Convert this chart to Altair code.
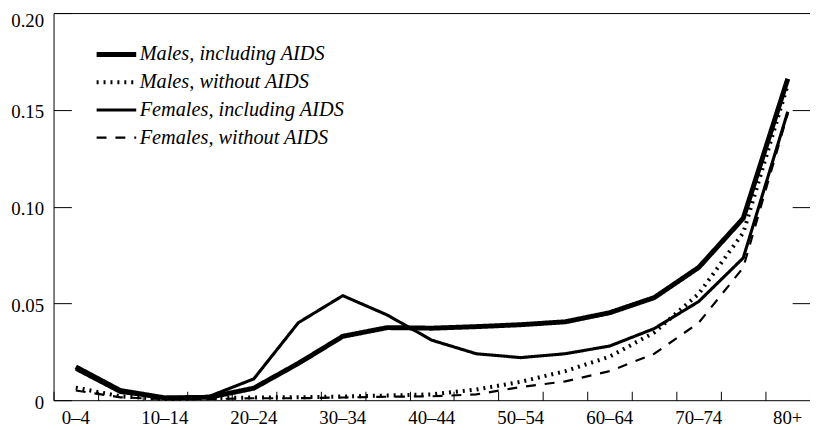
import json
import altair as alt
import pandas as pd

ages = ["0–4", "5–9", "10–14", "15–19", "20–24", "25–29", "30–34", "35–39",
        "40–44", "45–49", "50–54", "55–59", "60–64", "65–69", "70–74", "75–79", "80+"]
shown_labels = ["0–4", "10–14", "20–24", "30–34", "40–44", "50–54", "60–64", "70–74", "80+"]

series_names = ["Males, including AIDS", "Males, without AIDS",
                "Females, including AIDS", "Females, without AIDS"]

males_incl = [0.0172, 0.005, 0.0012, 0.0015, 0.0062, 0.019, 0.033, 0.0375,
              0.0372, 0.038, 0.039, 0.0405, 0.0452, 0.053, 0.0686, 0.094, 0.166]
males_wo = [0.0065, 0.002, 0.0006, 0.001, 0.0014, 0.0015, 0.0019, 0.0024,
            0.003, 0.0055, 0.0095, 0.015, 0.0225, 0.035, 0.055, 0.0865, 0.163]
females_incl = [0.016, 0.004, 0.0012, 0.002, 0.011, 0.040, 0.054, 0.044,
                0.031, 0.024, 0.022, 0.024, 0.028, 0.037, 0.051, 0.0735, 0.149]
females_wo = [0.005, 0.0015, 0.0005, 0.0006, 0.001, 0.001, 0.0014, 0.0018,
              0.002, 0.003, 0.0068, 0.0097, 0.015, 0.024, 0.040, 0.0685, 0.148]

values = [males_incl, males_wo, females_incl, females_wo]
rows = []
for name, vals in zip(series_names, values):
    for a, v in zip(ages, vals):
        rows.append({"age": a, "rate": v, "series": name})
df = pd.DataFrame(rows)

FONT = "Liberation Serif"
label_expr = "indexof(" + json.dumps(shown_labels) + ", datum.value) >= 0 ? datum.label : ''"

x_scale = alt.Scale(domain=ages, paddingInner=0, paddingOuter=0)
y_scale = alt.Scale(domain=[0, 0.2], nice=False, zero=True)

legend_opts = dict(title=None, orient="none", legendX=41, legendY=28,
                   symbolType="stroke", symbolSize=1600, symbolStrokeColor="black",
                   labelFont=FONT, labelFontSize=20.5, labelFontStyle="italic",
                   labelColor="black", labelOffset=1, rowPadding=0, padding=0,
                   clipHeight=27.8, labelLimit=400)

lines = alt.Chart(df).mark_line(color="black").encode(
    x=alt.X("age:N", sort=ages, scale=x_scale, title=None,
            axis=alt.Axis(labelExpr=label_expr, labelAngle=0, ticks=False, tickSize=0,
                          labelPadding=9, domain=True, domainColor="black",
                          domainWidth=1, grid=False, labelFont=FONT, labelFontSize=19,
                          labelColor="black")),
    y=alt.Y("rate:Q", scale=y_scale, title=None,
            axis=alt.Axis(values=[0, 0.05, 0.1, 0.15, 0.2],
                          labelExpr="datum.value == 0 ? '0' : format(datum.value, '.2f')",
                          ticks=False, tickSize=0, labelPadding=10,
                          labelOffset=alt.ConditionalAxisNumber(
                              condition={"test": "datum.value >= 0.2", "value": 8},
                              value=2),
                          domain=True, domainColor="black", grid=False, labelFont=FONT,
                          labelFontSize=19, labelColor="black")),
    strokeDash=alt.StrokeDash("series:N", sort=series_names,
                              scale=alt.Scale(domain=series_names,
                                              range=[[1, 0], [2, 5], [1, 0], [10, 9]]),
                              legend=alt.Legend(**legend_opts)),
    strokeWidth=alt.StrokeWidth("series:N", sort=series_names,
                                scale=alt.Scale(domain=series_names, range=[5, 2.2, 1.0, 2.8]),
                                legend=alt.Legend(**legend_opts)),
    order=alt.Order("age_idx:Q"),
).transform_calculate(
    age_idx="indexof(" + json.dumps(ages) + ", datum.age)"
)

ticks_layer = alt.Chart(df).mark_point(opacity=0).encode(
    x=alt.X("age:N", sort=ages, scale=x_scale, title=None,
            axis=alt.Axis(orient="bottom", offset=-9, tickSize=9, tickBand="extent",
                          tickColor="black", tickWidth=1, labels=False, domain=False,
                          grid=False)),
    y=alt.Y("rate:Q", scale=y_scale, title=None,
            axis=alt.Axis(orient="left", offset=-18, tickSize=18, tickColor="black",
                          tickWidth=1, values=[0, 0.05, 0.1, 0.15, 0.2], labels=False,
                          domain=False, grid=False)),
)

frame_layer = alt.Chart(df).mark_point(opacity=0).encode(
    x=alt.X("age:N", sort=ages, scale=x_scale, title=None,
            axis=alt.Axis(orient="top", ticks=False, labels=False, domain=True,
                          domainColor="black", domainWidth=1, grid=False)),
    y=alt.Y("rate:Q", scale=y_scale, title=None,
            axis=alt.Axis(orient="right", offset=-18, tickSize=18, tickColor="black",
                          tickWidth=1, values=[0.05, 0.1, 0.15], labels=False,
                          domain=False, grid=False)),
)

chart = alt.layer(lines, ticks_layer, frame_layer).resolve_axis(
    x="independent", y="independent"
).properties(
    width=764, height=391,
    autosize=alt.AutoSizeParams(type="none"),
    padding={"left": 46, "top": 3, "right": 0, "bottom": 28},
    background="white",
).configure_view(stroke=None)

chart.save("out.html", embed_options={"renderer": "svg", "actions": False})
